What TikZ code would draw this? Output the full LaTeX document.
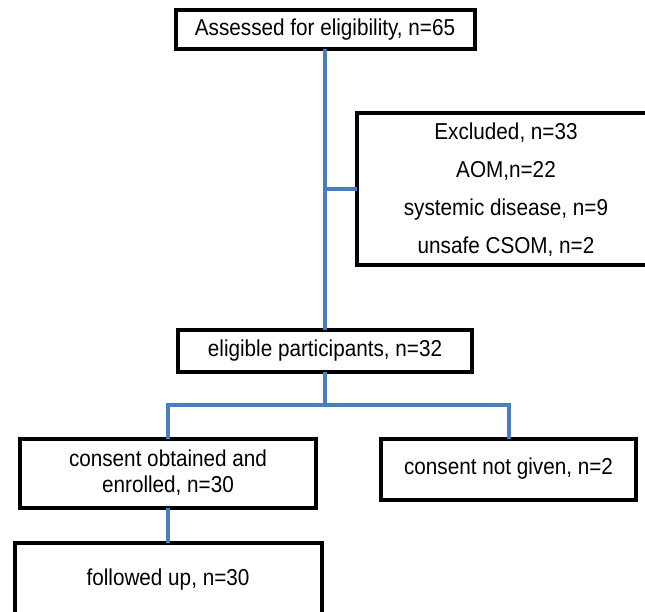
\documentclass[tikz,border=0pt]{standalone}
\usepackage{fontspec}
\setmainfont{Liberation Sans}[FakeStretch=0.9]
\usepackage{xcolor}
\usetikzlibrary{positioning}
\definecolor{lineblue}{RGB}{74,126,187}
\tikzset{%
	block/.style    = {draw, rectangle, line width=4pt, text centered, align=center, inner sep=0pt, outer sep=0pt, font=\fontsize{23}{26}\selectfont},
	link/.style     = {draw=lineblue, line width=4pt, line join=miter},
}

\begin{document}
\begin{tikzpicture}[x=1pt, y=-1pt]
	\useasboundingbox (0,0) rectangle (645,612);
	\node[block, minimum width=299, minimum height=39] (assess) at (325,29.5) {Assessed for eligibility, n=65};
	\node[block, minimum width=298, minimum height=152, font=\fontsize{23}{38}\selectfont] (excl) at (506,189.5) {Excluded, n=33\\AOM,n=22\\systemic disease, n=9\\unsafe CSOM, n=2};
	\node[block, minimum width=294, minimum height=42] (elig) at (325,350.5) {eligible participants, n=32};
	\node[block, minimum width=296, minimum height=69] (cons) at (168,473) {consent obtained and\\enrolled, n=30};
	\node[block, minimum width=255, minimum height=61] (nocons) at (508.5,469) {consent not given, n=2};
	\node[block, minimum width=307, minimum height=74] (follow) at (168,580) {followed up, n=30};
	\coordinate (split) at (325,405);
	\draw[link] (assess.south) -- (elig.north);
	\draw[link] (assess.south |- excl.west) -- (excl.west);
	\draw[link] (elig.south) -- (split);
	\draw[link] (cons.north) -- (cons.north |- split) -- (nocons.north |- split) -- (nocons.north);
	\draw[link] (cons.south) -- (follow.north);
\end{tikzpicture}
\end{document}
